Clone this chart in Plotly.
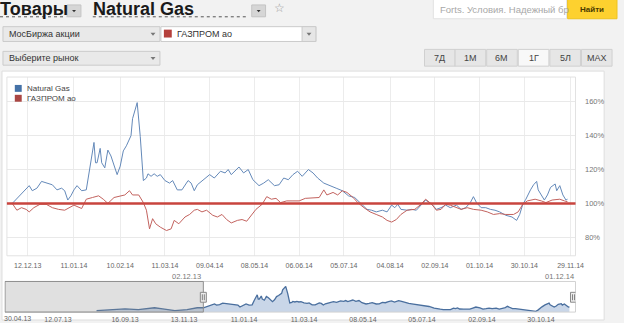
import plotly.graph_objects as go
import pandas as pd

W, H = 624, 323
START = pd.Timestamp('2013-12-02')

# ---- data (percent of value on 02.12.13), day offsets from 02.12.13 ----
ng_days = [0, 3, 6, 9, 11, 13, 16, 19, 22, 26,
           29, 32, 34, 36, 38, 40, 42, 45, 48, 50,
           53, 54, 55, 57, 58, 60, 62, 64, 68, 70,
           72, 74, 77, 78, 81, 83, 85, 87, 88, 90,
           92, 94, 96, 99, 102, 104, 107, 110, 114, 116,
           118, 120, 124, 128, 131, 135, 138, 140, 142, 147,
           150, 153, 156, 160, 163, 166, 170, 173, 176, 179,
           182, 185, 188, 192, 195, 198, 202, 205, 210, 214,
           218, 222, 227, 230, 233, 236, 240, 243, 246, 248,
           250, 252, 256, 259, 262, 265, 268, 272, 275, 278,
           281, 284, 288, 291, 294, 297, 299, 301, 304, 307,
           310, 313, 316, 320, 324, 327, 329, 331, 333, 336,
           338, 340, 341, 343, 345, 347, 349, 352, 353, 355,
           357, 359, 360]
ng_vals = [100, 103, 106, 109, 110.5, 107.5, 109, 113, 112, 111,
           108, 109, 107.5, 102, 104.5, 108, 110.5, 107.5, 108, 120,
           136, 124, 124, 132.5, 124, 121, 131.5, 128, 117, 122,
           131, 134, 140, 150, 159.5, 139.5, 113.5, 115, 117.5, 116,
           117.5, 116, 117, 113.5, 112, 113.5, 108, 108, 113.5, 112,
           107.5, 111, 114, 117, 115, 119, 118, 120, 117, 121.5,
           118, 120, 114, 110.5, 112, 114, 110.5, 111, 115, 114,
           117, 119, 116, 120, 118, 115, 112, 111, 109, 107.5,
           104.5, 103.5, 99, 96.5, 96, 95, 96, 95, 99, 97.5,
           99.5, 96.5, 96, 96.5, 96, 99, 102, 99.5, 96.5, 97.5,
           99, 97.5, 99, 96.5, 97.5, 100.5, 104, 100.5, 97.5, 97.5,
           96.5, 96, 95, 93, 92, 90, 93.5, 99.5, 102.5, 108,
           111, 113, 108, 105, 102, 105, 109.5, 111.5, 107.5, 110.5,
           105, 102, 102.5]

gz_days = [0, 3, 6, 9, 11, 14, 18, 22, 26, 30,
           34, 37, 40, 45, 46, 48, 52, 56, 59, 62,
           66, 70, 73, 76, 78, 82, 85, 87, 89, 91,
           93, 96, 100, 103, 105, 108, 112, 115, 118, 120,
           123, 126, 130, 133, 136, 139, 142, 146, 149, 152,
           155, 158, 162, 165, 168, 171, 174, 178, 182, 186,
           190, 195, 199, 202, 204, 208, 211, 214, 217, 221,
           224, 228, 232, 236, 240, 243, 246, 249, 252, 256,
           261, 265, 268, 272, 275, 278, 281, 284, 288, 291,
           295, 299, 304, 308, 312, 316, 320, 325, 328, 331,
           334, 339, 343, 346, 350, 355, 358, 360]
gz_vals = [100, 96, 97.5, 96.5, 95, 97.5, 99.5, 99.5, 97.5, 96.5,
           96, 97.5, 99, 97, 99, 102.5, 103.5, 104.5, 102.5, 100,
           103.5, 104.5, 105, 107.5, 105, 105, 100.5, 96, 85, 91,
           88, 86, 84, 85, 90, 88, 92, 93.5, 96, 96.5,
           95, 96, 93, 92, 93.5, 90.5, 88.5, 90, 90.5, 89.5,
           93, 96.5, 99.5, 104, 102.5, 103, 100.5, 101.5, 101.5, 101.5,
           103, 103.5, 103.5, 108, 105, 106.5, 105, 107.5, 106.5, 103.5,
           100.5, 97.5, 95, 93.5, 92, 90, 89, 90.5, 93.5, 96,
           96.5, 99.5, 102.5, 99.5, 96, 96.5, 99.5, 99, 97.5, 96.5,
           97.5, 96.5, 96, 95, 93.5, 94, 93.5, 93.5, 95, 99.5,
           101.5, 102.5, 101.5, 100.5, 102, 102.5, 101.5, 101]

# navigator: Natural Gas history before the selected range
nav_pre_days = [-105, -93, -77, -64, -48, -40, -28, -16, -6]
nav_pre_vals = [92, 94, 97, 95, 100, 97, 92, 95, 100]

main_ticks = ['12.12.13', '11.01.14', '10.02.14', '11.03.14', '09.04.14', '08.05.14',
              '06.06.14', '05.07.14', '04.08.14', '02.09.14', '01.10.14', '30.10.14', '29.11.14']
nav_ticks = ['12.07.13', '16.09.13', '13.11.13', '11.01.14', '11.03.14', '08.05.14',
             '05.07.14', '02.09.14', '30.10.14']
nav_first_label = '30.04.13'
y_ticks = [80, 100, 120, 140, 160]
sel_range = ['02.12.13', '01.12.14']
names = ['Natural Gas', 'ГАЗПРОМ ао']
range_buttons = ['7Д', '1М', '6М', '1Г', '5Л', 'MAX']
selected_button = '1Г'
baseline = 100

# ---- helpers ----
FONT = 'Liberation Sans, Arial, sans-serif'
def X(px): return px / W
def Y(py): return 1 - py / H
def dparse(s): return pd.to_datetime(s, format='%d.%m.%y')

shapes, annos = [], []
def rect(x0, y0, x1, y1, fill, line='rgba(0,0,0,0)', lw=1, layer='above', dash=None):
    shapes.append(dict(type='rect', xref='paper', yref='paper', x0=X(x0), x1=X(x1),
                       y0=Y(y1), y1=Y(y0), fillcolor=fill,
                       line=dict(color=line, width=lw, dash=dash), layer=layer))
def hline(x0, x1, y, color, lw=1, dash=None):
    shapes.append(dict(type='line', xref='paper', yref='paper', x0=X(x0), x1=X(x1),
                       y0=Y(y), y1=Y(y), line=dict(color=color, width=lw, dash=dash)))
def tri(cx, cy, color, s=2.5):
    p = f"M{X(cx - s)},{Y(cy - s / 2)} L{X(cx + s)},{Y(cy - s / 2)} L{X(cx)},{Y(cy + s / 1.5)} Z"
    shapes.append(dict(type='path', xref='paper', yref='paper', path=p, fillcolor=color,
                       line=dict(color=color, width=0)))
def text(x, y, s, size, color, xanchor='left', bold=False):
    annos.append(dict(x=X(x), y=Y(y), xref='paper', yref='paper', text=(f'<b>{s}</b>' if bold else s),
                      showarrow=False, xanchor=xanchor, yanchor='middle',
                      font=dict(size=size, color=color, family=FONT), borderpad=0))

ng_dates = START + pd.to_timedelta(ng_days, unit='D')
gz_dates = START + pd.to_timedelta(gz_days, unit='D')
nav_dates = START + pd.to_timedelta(nav_pre_days + ng_days, unit='D')
nav_vals = nav_pre_vals + ng_vals

c_ng, c_gz = '#4572A7', '#AA4643'

fig = go.Figure()
fig.add_trace(go.Scatter(x=ng_dates, y=ng_vals, mode='lines', name=names[0],
                         line=dict(color='#6489b9', width=1), xaxis='x', yaxis='y'))
fig.add_trace(go.Scatter(x=gz_dates, y=gz_vals, mode='lines', name=names[1],
                         line=dict(color='#c2625e', width=1), xaxis='x', yaxis='y'))
fig.add_trace(go.Scatter(x=nav_dates, y=nav_vals, mode='lines', fill='tozeroy',
                         fillcolor='#c9d6e8', line=dict(color='#4a6f9e', width=1.3),
                         xaxis='x2', yaxis='y2'))

# ---- page chrome ----
# chart panel
rect(2, 72, 612, 324, 'white', '#dedede', layer='below')
# title row
text(-1, 9.5, 'Товары', 18, '#1a1a1a', bold=True)
hline(0, 67, 17, '#555', 1, 'dot')
rect(68, 5, 82, 17, '#d6d6d6', '#c4c4c4')
tri(75, 11, '#333', 2)
text(93, 9.5, names[0], 18, '#1a1a1a', bold=True)
hline(94, 252, 17, '#555', 1, 'dot')
rect(255, 5, 269, 17, '#d6d6d6', '#c4c4c4')
tri(262, 11, '#333', 2)
text(283, 8, '☆', 12, '#9a9a9a', xanchor='center')
# search
rect(439, -1, 574, 19, 'white', '#e2e2e2')
text(445, 10, 'Forts. Условия. Надежный бр', 9.5, '#a8a8a8')
rect(575, -1, 625, 19, '#fdd12f', '#eec21c')
text(600, 10, 'Найти', 8, '#4a3b00', xanchor='center', bold=True)
# dropdowns
rect(3, 27, 162, 42, '#e9e9e9', '#cbcbcb')
text(8, 34.5, 'МосБиржа акции', 9, '#333')
tri(155, 34.5, '#777')
rect(163, 27, 320, 42, 'white', '#cbcbcb')
rect(306, 27, 320, 42, '#e6e6e6', '#cbcbcb')
tri(313, 34.5, '#777')
rect(166, 30, 174, 38, '#b5403c')
text(178, 34.5, names[1], 9, '#333')
rect(3, 52, 162, 66, '#e9e9e9', '#cbcbcb')
text(8, 59, 'Выберите рынок', 9, '#333')
tri(155, 59, '#777')
# range buttons
bx = [430, 461, 493, 525, 557, 589]
for i, lab in enumerate(range_buttons):
    x0 = bx[i]
    x1 = x0 + 31
    rect(x0, 50, x1, 67, '#f8f8f8' if lab == selected_button else '#e6e6e6', '#d0d0d0')
    text((x0 + x1) / 2, 58.5, lab, 9, '#444', xanchor='center')

# main plot frame and legend
rect(7, 78, 583, 259, 'rgba(0,0,0,0)', '#e2e2e2')
shapes.append(dict(type='line', xref='paper', yref='y', x0=X(7), x1=X(583), y0=baseline, y1=baseline,
                   line=dict(color='#c8443e', width=2.5), layer='above'))
rect(15, 86, 22, 93, c_ng)
text(26, 89.5, names[0], 8, '#444')
rect(15, 96, 22, 103, c_gz)
text(26, 99.5, names[1], 8, '#444')

# navigator chrome
s0, s1 = dparse(sel_range[0]), dparse(sel_range[1])
nav_lo = START + pd.Timedelta(days=-195.1)
nav_hi = START + pd.Timedelta(days=366)
rect(5, 285, 583, 316, 'rgba(0,0,0,0)', '#d2d2d2')
shapes.append(dict(type='rect', xref='x2', yref='paper', x0=nav_lo, x1=s0, y0=Y(316), y1=Y(285),
                   fillcolor='rgba(140,140,140,0.27)', line=dict(color='#8f8f8f', width=1), layer='above'))
for s in (s0, s1):
    shapes.append(dict(type='rect', xref='x2', yref='paper', xsizemode='pixel', xanchor=s,
                       x0=-3, x1=3, y0=Y(306), y1=Y(296), fillcolor='#ececec',
                       line=dict(color='#8a8a8a', width=1), layer='above'))
    for dx in (-1, 1):
        shapes.append(dict(type='line', xref='x2', yref='paper', xsizemode='pixel', xanchor=s,
                           x0=dx, x1=dx, y0=Y(304), y1=Y(298),
                           line=dict(color='#666', width=0.8), layer='above'))
text(205, 280, sel_range[0], 7.5, '#777', xanchor='right')
text(582, 280, sel_range[1], 7.5, '#777', xanchor='right')
text(3, 322, nav_first_label, 7, '#666')

main_lo = START + pd.Timedelta(days=-3.46)
main_hi = START + pd.Timedelta(days=365.2)

fig.update_layout(
    width=W, height=H, margin=dict(l=0, r=0, t=0, b=0),
    paper_bgcolor='#f2f2f2', plot_bgcolor='white', showlegend=False,
    font=dict(family=FONT),
    xaxis=dict(domain=[X(7), X(583)], anchor='y', type='date', range=[main_lo, main_hi],
               tickvals=[dparse(t) for t in main_ticks], ticktext=main_ticks,
               showgrid=True, gridcolor='#ececec', gridwidth=1, ticks='outside', ticklen=3,
               tickcolor='rgba(0,0,0,0)',
               tickfont=dict(size=7, color='#666'), showline=False, zeroline=False),
    yaxis=dict(domain=[Y(259), Y(78)], anchor='x', range=[69.1, 174.6], side='right',
               tickvals=y_ticks, ticktext=[f'{v}%' for v in y_ticks],
               showgrid=True, gridcolor='#e9e9e9', ticks='outside', ticklen=7,
               tickcolor='rgba(0,0,0,0)', tickfont=dict(size=7.5, color='#777'),
               zeroline=False, showline=False),
    xaxis2=dict(domain=[X(5), X(583)], anchor='y2', type='date', range=[nav_lo, nav_hi],
                tickvals=[dparse(t) for t in nav_ticks], ticktext=nav_ticks,
                showgrid=False, ticks='outside', ticklen=1, tickcolor='rgba(0,0,0,0)',
                tickfont=dict(size=7, color='#666'),
                showline=False, zeroline=False),
    yaxis2=dict(domain=[Y(316), Y(285)], anchor='x2', range=[88, 173], visible=False),
    shapes=shapes, annotations=annos,
)

fig.write_html('out.html')
